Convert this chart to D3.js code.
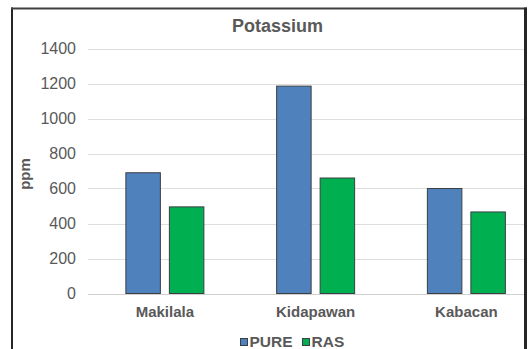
<!DOCTYPE html>
<html>
<head>
<meta charset="utf-8">
<script src="https://cdn.jsdelivr.net/npm/d3@7"></script>
<style>
  body { margin: 0; background: #fff; }
  svg { display: block; font-family: "Liberation Sans", Arial, sans-serif; }
</style>
</head>
<body>
<div id="chart"></div>
<script>
// data
var categories = ["Makilala", "Kidapawan", "Kabacan"];
var seriesNames = ["PURE", "RAS"];
var pureValues = [690, 1185, 600];
var rasValues = [495, 660, 466];
var yTicks = [0, 200, 400, 600, 800, 1000, 1200, 1400];

var colors = { "PURE": "#4f81bd", "RAS": "#00b050" };
var textColor = "#595959";

var W = 529, H = 349;

var svg = d3.select("#chart").append("svg")
    .attr("width", W)
    .attr("height", H);

// Scales
var x = d3.scaleBand()
    .domain(categories)
    .range([89.5, 541.75])
    .paddingInner(0)
    .paddingOuter(0);

var xs = d3.scaleBand()
    .domain(seriesNames)
    .range([-39, 39])
    .paddingInner(0.207);

var y = d3.scaleLinear()
    .domain([0, 1400])
    .range([293.5, 48.5]);

// clip so the plot is cut at the right frame like the original
svg.append("clipPath").attr("id", "plotclip")
    .append("rect").attr("x", 0).attr("y", 0).attr("width", 524).attr("height", H);

var plot = svg.append("g").attr("clip-path", "url(#plotclip)");

// Gridlines
plot.append("g")
    .attr("class", "grid")
    .selectAll("line")
    .data(yTicks)
    .enter().append("line")
    .attr("x1", 88)
    .attr("x2", 541.75)
    .attr("y1", function(d) { return Math.round(y(d)) + 0.5; })
    .attr("y2", function(d) { return Math.round(y(d)) + 0.5; })
    .attr("stroke", function(d) { return d === 0 ? "#d0d0d0" : "#dedede"; })
    .attr("stroke-width", 1);

// Bars
var rows = categories.map(function(c, i) {
    return { cat: c, PURE: pureValues[i], RAS: rasValues[i] };
});

plot.selectAll(".group")
    .data(rows)
    .enter().append("g")
    .attr("class", "group")
    .attr("transform", function(d) { return "translate(" + (x(d.cat) + x.bandwidth() / 2) + ",0)"; })
    .selectAll("rect")
    .data(function(d) { return seriesNames.map(function(s) { return { key: s, value: d[s] }; }); })
    .enter().append("rect")
    .attr("x", function(d) { return xs(d.key); })
    .attr("y", function(d) { return y(d.value); })
    .attr("width", xs.bandwidth())
    .attr("height", function(d) { return y(0) - y(d.value); })
    .attr("fill", function(d) { return colors[d.key]; })
    .attr("stroke", "#3a3f44")
    .attr("stroke-width", 1);

// Y axis labels
var yAxis = svg.append("g")
    .attr("transform", "translate(76,0)")
    .call(d3.axisLeft(y).tickValues(yTicks).tickFormat(d3.format("d")).tickSize(0).tickPadding(0));
yAxis.select(".domain").remove();
yAxis.selectAll("text")
    .attr("fill", textColor)
    .style("font-size", "16px")
    .style("font-family", "Liberation Sans, Arial, sans-serif");

// X axis labels
var xAxis = svg.append("g")
    .attr("transform", "translate(0,306)")
    .call(d3.axisBottom(x).tickSize(0).tickPadding(0));
xAxis.select(".domain").remove();
xAxis.selectAll("text")
    .attr("fill", textColor)
    .attr("dy", "0.71em")
    .style("font-size", "15px")
    .style("font-weight", "bold")
    .style("font-family", "Liberation Sans, Arial, sans-serif");

// Title
svg.append("text")
    .attr("x", 277.5)
    .attr("y", 31.5)
    .attr("text-anchor", "middle")
    .attr("fill", textColor)
    .style("font-size", "18px")
    .style("font-weight", "bold")
    .text("Potassium");

// Y axis title
svg.append("text")
    .attr("transform", "translate(30,174) rotate(-90)")
    .attr("text-anchor", "middle")
    .attr("fill", textColor)
    .style("font-size", "15px")
    .style("font-weight", "bold")
    .text("ppm");

// Legend
var legendX = { "PURE": 240, "RAS": 302 };
var legend = svg.selectAll(".legend")
    .data(seriesNames)
    .enter().append("g")
    .attr("class", "legend")
    .attr("transform", function(d) { return "translate(" + legendX[d] + ",0)"; });

legend.append("rect")
    .attr("x", 0.5)
    .attr("y", 338.5)
    .attr("width", 7)
    .attr("height", 7)
    .attr("fill", function(d) { return colors[d]; })
    .attr("stroke", "#3a3f44")
    .attr("stroke-width", 1);

legend.append("text")
    .attr("x", 9.5)
    .attr("y", 346.5)
    .attr("fill", textColor)
    .style("font-size", "15.5px")
    .style("font-weight", "bold")
    .text(function(d) { return d; });

// Chart frame (cropped: left, top, right edges visible)
svg.append("line")
    .attr("x1", 12).attr("x2", 12).attr("y1", 7.5).attr("y2", H)
    .attr("stroke", "#262626").attr("stroke-width", 2);
svg.append("line")
    .attr("x1", 11).attr("x2", 527).attr("y1", 8.5).attr("y2", 8.5)
    .attr("stroke", "#404040").attr("stroke-width", 2);
svg.append("line")
    .attr("x1", 525.5).attr("x2", 525.5).attr("y1", 7.5).attr("y2", H)
    .attr("stroke", "#262626").attr("stroke-width", 3);
</script>
</body>
</html>
